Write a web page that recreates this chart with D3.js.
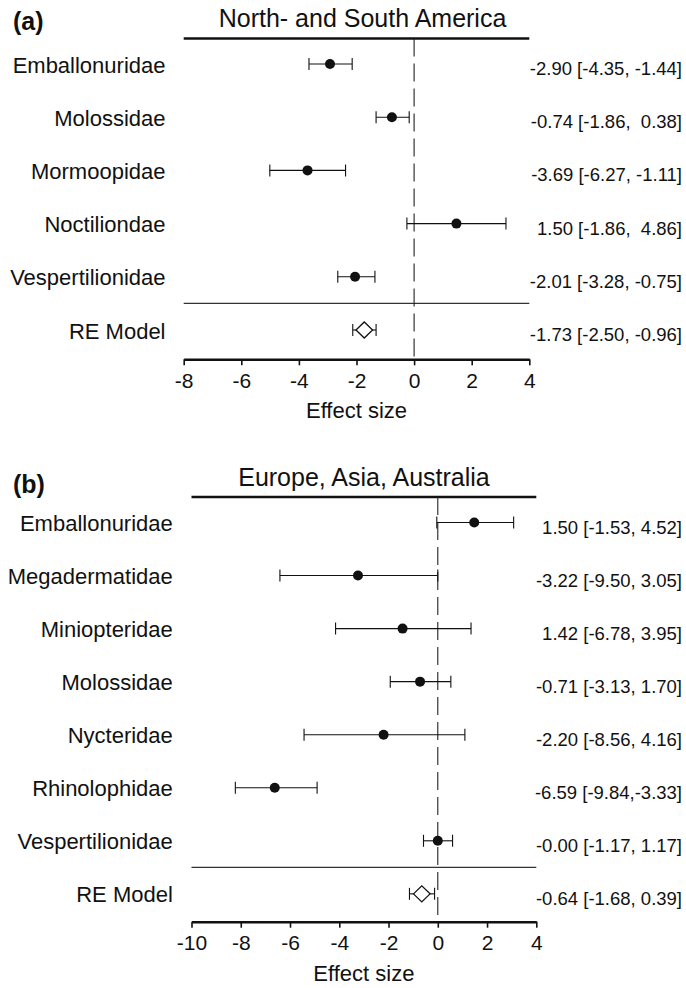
<!DOCTYPE html>
<html>
<head>
<meta charset="utf-8">
<script src="https://cdn.jsdelivr.net/npm/d3@7"></script>
<style>
  html, body { margin: 0; padding: 0; background: #fff; }
  svg { display: block; }
  text { font-family: "Liberation Sans", Arial, Helvetica, sans-serif; fill: #111; white-space: pre; }
</style>
</head>
<body>
<div id="chart"></div>
<script>
// ---------- Panel (a) data: North- and South America ----------
const titleA = "North- and South America";
const namesA = ["Emballonuridae", "Molossidae", "Mormoopidae", "Noctiliondae", "Vespertilionidae"];
const estA = [-2.92, -0.77, -3.70, 1.47, -2.05];
const loA = [-3.65, -1.32, -5.01, -0.25, -2.65];
const hiA = [-2.15, -0.17, -2.38, 3.19, -1.36];
const annotA = ["-2.90 [-4.35, -1.44]", "-0.74 [-1.86,  0.38]", "-3.69 [-6.27, -1.11]", "1.50 [-1.86,  4.86]", "-2.01 [-3.28, -0.75]"];
const summaryA = [-1.73, -2.13, -1.32];          // estimate, lower, upper
const summaryAnnotA = "-1.73 [-2.50, -0.96]";
const ticksA = [-8, -6, -4, -2, 0, 2, 4];

// ---------- Panel (b) data: Europe, Asia, Australia ----------
const titleB = "Europe, Asia, Australia";
const namesB = ["Emballonuridae", "Megadermatidae", "Miniopteridae", "Molossidae", "Nycteridae", "Rhinolophidae", "Vespertilionidae"];
const estB = [1.48, -3.24, -1.43, -0.72, -2.20, -6.62, 0.00];
const loB = [-0.04, -6.41, -4.15, -1.93, -5.43, -8.22, -0.58];
const hiB = [3.08, 0.00, 1.35, 0.53, 1.10, -4.90, 0.60];
const annotB = ["1.50 [-1.53, 4.52]", "-3.22 [-9.50, 3.05]", "1.42 [-6.78, 3.95]", "-0.71 [-3.13, 1.70]", "-2.20 [-8.56, 4.16]", "-6.59 [-9.84,-3.33]", "-0.00 [-1.17, 1.17]"];
const summaryB = [-0.65, -1.15, -0.13];
const summaryAnnotB = "-0.64 [-1.68, 0.39]";
const ticksB = [-10, -8, -6, -4, -2, 0, 2, 4];

const summaryLabel = "RE Model";
const axisLabel = "Effect size";

const W = 686, H = 988;
const svg = d3.select("#chart").append("svg")
  .attr("width", W).attr("height", H)
  .attr("viewBox", `0 0 ${W} ${H}`);
svg.append("rect").attr("width", W).attr("height", H).attr("fill", "#fff");

function drawPanel(cfg) {
  const g = svg.append("g");
  const x = d3.scaleLinear().domain(cfg.domain).range(cfg.xRange);
  const n = cfg.names.length;
  const rowY = d3.scaleLinear().domain([0, 1]).range([cfg.firstRow, cfg.firstRow + cfg.rowStep]);
  const reY = rowY(n);
  const sepY = rowY(n - 0.5);

  // panel tag
  g.append("text").attr("x", 13).attr("y", cfg.tagY)
    .attr("font-size", 25).attr("font-weight", "bold").text(cfg.tag);

  // title
  g.append("text").attr("x", cfg.titleX).attr("y", cfg.titleY)
    .attr("text-anchor", "middle").attr("font-size", 25).text(cfg.title);

  // top thick line
  g.append("line")
    .attr("x1", x(cfg.domain[0])).attr("x2", x(cfg.domain[1]))
    .attr("y1", cfg.topY).attr("y2", cfg.topY)
    .attr("stroke", "#111").attr("stroke-width", 2.6);

  // separator line
  g.append("line")
    .attr("x1", x(cfg.domain[0])).attr("x2", x(cfg.domain[1]))
    .attr("y1", sepY).attr("y2", sepY)
    .attr("stroke", "#333").attr("stroke-width", 1.1);

  // zero dashed line
  g.append("line")
    .attr("x1", x(0)).attr("x2", x(0))
    .attr("y1", cfg.topY).attr("y2", cfg.axisY)
    .attr("stroke", "#222").attr("stroke-width", 1.1)
    .attr("stroke-dasharray", "18,7");

  // axis
  const axis = d3.axisBottom(x).tickValues(cfg.ticks)
    .tickFormat(d => String(d)).tickSize(6).tickSizeOuter(0).tickPadding(7);
  const ag = g.append("g").attr("transform", `translate(0,${cfg.axisY})`).call(axis);
  ag.select(".domain").attr("stroke", "#111").attr("stroke-width", 2.6);
  ag.selectAll(".tick line").attr("stroke", "#111").attr("stroke-width", 1.6);
  ag.selectAll(".tick text")
    .attr("font-size", 21).attr("font-family", "Liberation Sans, Arial, sans-serif")
    .attr("fill", "#111").attr("dy", null).attr("y", 28.3);

  g.append("text").attr("x", (cfg.xRange[0] + cfg.xRange[1]) / 2).attr("y", cfg.axisY + 59)
    .attr("text-anchor", "middle").attr("font-size", 22).text(axisLabel);

  // study rows
  const rows = cfg.names.map((name, i) => ({
    name, est: cfg.est[i], lo: cfg.lo[i], hi: cfg.hi[i], annot: cfg.annot[i], y: rowY(i)
  }));

  const rg = g.selectAll("g.row").data(rows).join("g").attr("class", "row");
  rg.append("text").attr("x", cfg.labelRight).attr("y", d => d.y + 8.5)
    .attr("text-anchor", "end").attr("font-size", 22).text(d => d.name);
  rg.append("text").attr("x", 682).attr("y", d => d.y + 11)
    .attr("text-anchor", "end").attr("font-size", 18.5).text(d => d.annot);
  rg.append("line")
    .attr("x1", d => x(d.lo)).attr("x2", d => x(d.hi))
    .attr("y1", d => d.y).attr("y2", d => d.y)
    .attr("stroke", "#111").attr("stroke-width", 1.1);
  rg.append("line")
    .attr("x1", d => x(d.lo)).attr("x2", d => x(d.lo))
    .attr("y1", d => d.y - 6).attr("y2", d => d.y + 6)
    .attr("stroke", "#111").attr("stroke-width", 1.1);
  rg.append("line")
    .attr("x1", d => x(d.hi)).attr("x2", d => x(d.hi))
    .attr("y1", d => d.y - 6).attr("y2", d => d.y + 6)
    .attr("stroke", "#111").attr("stroke-width", 1.1);
  rg.append("circle")
    .attr("cx", d => x(d.est)).attr("cy", d => d.y).attr("r", 5)
    .attr("fill", "#111");

  // summary row
  const [sEst, sLo, sHi] = cfg.summary;
  g.append("text").attr("x", cfg.labelRight).attr("y", reY + 8.5)
    .attr("text-anchor", "end").attr("font-size", 22).text(summaryLabel);
  g.append("text").attr("x", 682).attr("y", reY + 11)
    .attr("text-anchor", "end").attr("font-size", 18.5).text(cfg.summaryAnnot);
  g.append("line")
    .attr("x1", x(sLo)).attr("x2", x(sHi)).attr("y1", reY).attr("y2", reY)
    .attr("stroke", "#111").attr("stroke-width", 1.1);
  [sLo, sHi].forEach(v => {
    g.append("line")
      .attr("x1", x(v)).attr("x2", x(v)).attr("y1", reY - 6).attr("y2", reY + 6)
      .attr("stroke", "#111").attr("stroke-width", 1.1);
  });
  const dx = 8.3, dy = 8;
  const cx = x(sEst);
  g.append("path")
    .attr("d", `M${cx - dx},${reY} L${cx},${reY - dy} L${cx + dx},${reY} L${cx},${reY + dy} Z`)
    .attr("fill", "#fff").attr("stroke", "#111").attr("stroke-width", 1.3);
}

drawPanel({
  tag: "(a)", tagY: 30, title: titleA, titleX: 362.5, titleY: 27,
  domain: [-8, 4], xRange: [183.7, 529.3], ticks: ticksA,
  names: namesA, est: estA, lo: loA, hi: hiA, annot: annotA,
  summary: summaryA, summaryAnnot: summaryAnnotA,
  firstRow: 64, rowStep: 53.2, topY: 38.5, axisY: 359.3, labelRight: 165.5
});

drawPanel({
  tag: "(b)", tagY: 493, title: titleB, titleX: 364, titleY: 486,
  domain: [-10, 4], xRange: [191.5, 536.3], ticks: ticksB,
  names: namesB, est: estB, lo: loB, hi: hiB, annot: annotB,
  summary: summaryB, summaryAnnot: summaryAnnotB,
  firstRow: 522.5, rowStep: 53.05, topY: 497, axisY: 921.7, labelRight: 172.8
});
</script>
</body>
</html>
